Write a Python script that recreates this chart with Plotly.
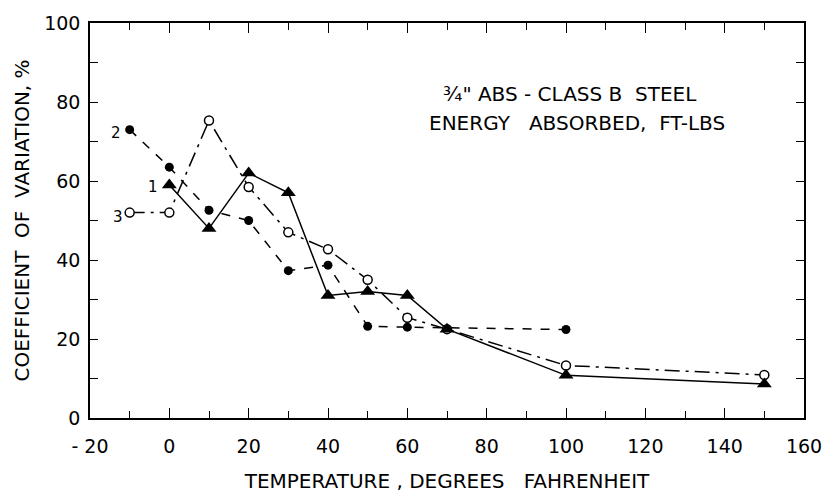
import plotly.graph_objects as go

# Data
temp_1 = [0, 10, 20, 30, 40, 50, 60, 70, 100, 150]
cov_1 = [59, 48, 62, 57, 31, 32, 31, 22.5, 10.8, 8.6]

temp_2 = [-10, 0, 10, 20, 30, 40, 50, 60, 100]
cov_2 = [73, 63.5, 52.6, 50, 37.3, 38.7, 23.2, 23, 22.4]

temp_3 = [-10, 0, 10, 20, 30, 40, 50, 60, 70, 100, 150]
cov_3 = [52, 52, 75.3, 58.5, 47, 42.7, 35, 25.4, 22.5, 13.3, 10.9]

x_ticks = [-20, 0, 20, 40, 60, 80, 100, 120, 140, 160]
x_labels = ["- 20", "0", "20", "40", "60", "80", "100", "120", "140", "160"]
y_ticks = [0, 20, 40, 60, 80, 100]

FONT = "DejaVu Sans"

fig = go.Figure()

fig.add_trace(go.Scatter(
    x=temp_3, y=cov_3, mode="lines+markers",
    line=dict(color="black", width=1.5, dash="longdashdot"),
    marker=dict(symbol="circle", size=9, color="white", line=dict(color="black", width=1.5)),
    showlegend=False))
fig.add_trace(go.Scatter(
    x=temp_2, y=cov_2, mode="lines+markers",
    line=dict(color="black", width=1.5, dash="dash"),
    marker=dict(symbol="circle", size=9, color="black"),
    showlegend=False))
fig.add_trace(go.Scatter(
    x=temp_1, y=cov_1, mode="lines+markers",
    line=dict(color="black", width=1.5),
    marker=dict(symbol="triangle-up", size=13, color="black"),
    showlegend=False))

# Series labels
for txt, x, y, xs, ys in [("2", temp_2[0], cov_2[0], -7, -3),
                          ("1", temp_1[0], cov_1[0], -9, -2),
                          ("3", temp_3[0], cov_3[0], -5, -4)]:
    fig.add_annotation(x=x, y=y, text=txt, showarrow=False, xanchor="right",
                       xshift=xs, yshift=ys,
                       font=dict(family=FONT, size=15, color="black"))

fig.add_annotation(x=0.492, y=0.82, xref="paper", yref="paper", xanchor="left", yanchor="middle",
                   text="¾\" ABS - CLASS&nbsp;B&nbsp;&nbsp;STEEL", showarrow=False,
                   font=dict(family=FONT, size=20, color="black"))
fig.add_annotation(x=0.472, y=0.746, xref="paper", yref="paper", xanchor="left", yanchor="middle",
                   text="ENERGY&nbsp;&nbsp;&nbsp;ABSORBED,&nbsp;&nbsp;FT-LBS", showarrow=False,
                   font=dict(family=FONT, size=20, color="black"))

axis_common = dict(
    showgrid=False, zeroline=False, showline=True, linecolor="black", linewidth=1.5,
    mirror="ticks", ticks="inside", tickcolor="black", tickwidth=1.2,
    tickfont=dict(family=FONT, size=19, color="black"),
)

fig.update_xaxes(range=[-20, 160], tickvals=x_ticks, ticktext=x_labels, ticklen=10,
                 ticklabelstandoff=10,
                 minor=dict(dtick=10, tick0=0, ticks="inside", ticklen=7, tickcolor="black", tickwidth=1.2),
                 title=dict(text="TEMPERATURE , DEGREES&nbsp;&nbsp;&nbsp;FAHRENHEIT", standoff=18,
                            font=dict(family=FONT, size=20, color="black")),
                 **axis_common)
fig.update_yaxes(range=[0, 100], tickvals=y_ticks, ticklen=8,
                 ticklabelstandoff=4,
                 minor=dict(dtick=10, tick0=0, ticks="inside", ticklen=8, tickcolor="black", tickwidth=1.2),
                 title=dict(text="COEFFICIENT&nbsp;&nbsp;OF&nbsp;&nbsp;VARIATION, %", standoff=9,
                            font=dict(family=FONT, size=20, color="black")),
                 **axis_common)

fig.update_layout(
    width=834, height=501,
    margin=dict(l=90, r=26, t=15, b=81),
    plot_bgcolor="white", paper_bgcolor="white",
    font=dict(family=FONT, color="black"),
)

fig.write_html("out.html")
